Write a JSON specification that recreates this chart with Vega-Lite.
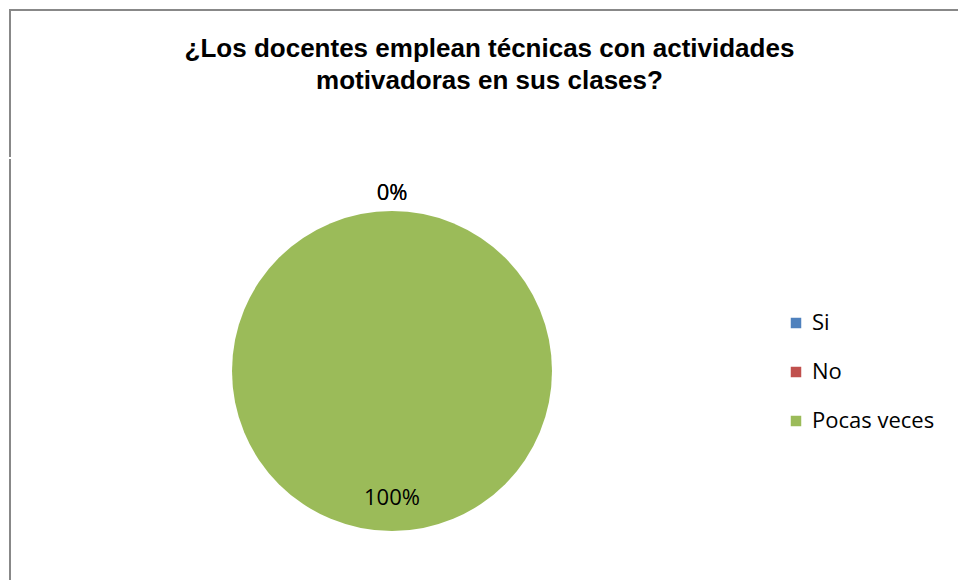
{
  "$schema": "https://vega.github.io/schema/vega-lite/v6.json",
  "padding": {"left": 9, "top": 9, "right": 0, "bottom": 0},
  "background": "white",
  "config": {"view": {"stroke": null}},
  "data": {"values": [
    {"respuesta": "Si", "proporcion": 0},
    {"respuesta": "No", "proporcion": 0},
    {"respuesta": "Pocas veces", "proporcion": 1}
  ]},
  "spacing": 0,
  "vconcat": [
    {
      "width": 949,
      "height": 147,
      "view": {"stroke": "#888888", "strokeWidth": 2, "strokeDash": [949, 1096, 147], "fill": null},
      "title": {
        "text": ["¿Los docentes emplean técnicas con actividades", "motivadoras en sus clases?"],
        "font": "Liberation Sans",
        "fontWeight": "bold",
        "fontSize": 26,
        "lineHeight": 32,
        "color": "black",
        "anchor": "middle",
        "offset": -84,
        "dx": 5
      },
      "mark": {"type": "text", "opacity": 0},
      "encoding": {}
    },
    {
      "width": 764,
      "height": 424,
      "view": {"stroke": "#888888", "strokeWidth": 2, "strokeDash": [424, 1952], "strokeDashOffset": 424, "fill": null},
      "encoding": {
        "theta": {"field": "proporcion", "type": "quantitative", "stack": true},
        "color": {
          "field": "respuesta",
          "type": "nominal",
          "sort": ["Si", "No", "Pocas veces"],
          "scale": {"domain": ["Si", "No", "Pocas veces"], "range": ["#4F81BD", "#C0504D", "#9BBB59"]},
          "legend": {
            "orient": "none",
            "legendX": 775,
            "legendY": 302,
            "title": null,
            "symbolType": "square",
            "symbolSize": 110,
            "symbolStrokeWidth": 0,
            "labelFont": "Open Sans",
            "labelFontSize": 22,
            "labelColor": "black",
            "rowPadding": 27,
            "labelOffset": 5,
            "padding": 0
          }
        }
      },
      "layer": [
        {"mark": {"type": "arc", "radius": 160}},
        {
          "transform": [{"filter": "datum.proporcion == 0"}],
          "mark": {"type": "text", "radius": 178, "font": "Open Sans", "fontSize": 22},
          "encoding": {
            "text": {"field": "proporcion", "type": "quantitative", "format": ".0%"},
            "color": {"value": "black"},
            "detail": {"field": "respuesta"}
          }
        },
        {
          "transform": [{"filter": "datum.proporcion > 0"}],
          "mark": {"type": "text", "radius": 127, "font": "Open Sans", "fontSize": 22},
          "encoding": {
            "text": {"field": "proporcion", "type": "quantitative", "format": ".0%"},
            "color": {"value": "black"},
            "detail": {"field": "respuesta"}
          }
        }
      ]
    }
  ]
}
